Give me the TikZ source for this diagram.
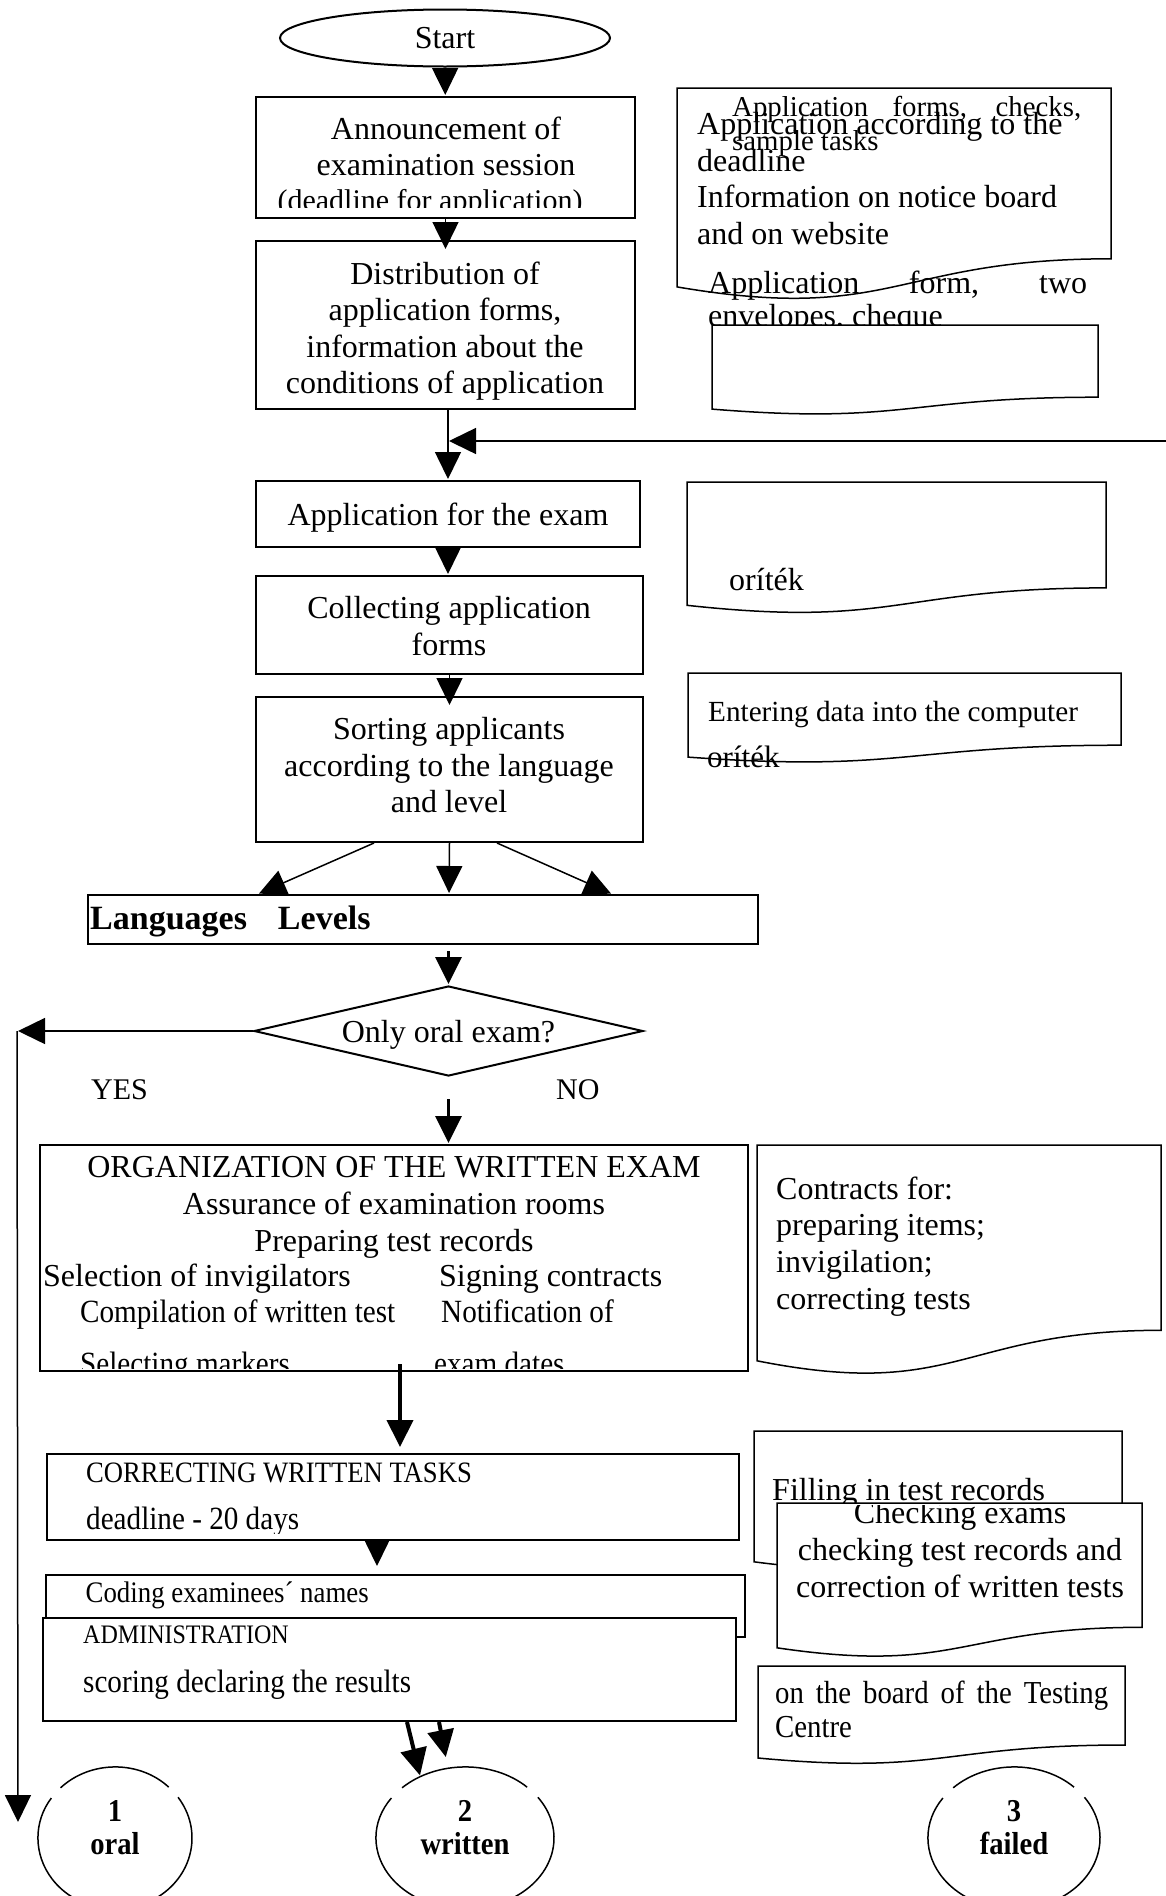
\documentclass[tikz,border=0pt]{standalone}
\usepackage{fontspec}
\setmainfont{Liberation Serif}
\newfontfamily\condfont[FakeStretch=0.9]{Liberation Serif}
\usetikzlibrary{arrows.meta,positioning,shapes.geometric}

\begin{document}
\begin{tikzpicture}[x=1pt,y=-1pt,>={Triangle[width=26pt,length=27pt]},shorten >=1pt,
    box/.style={draw,line width=2pt,fill=white,inner sep=0pt},
    doc/.style={draw,line width=1.5pt,fill=white},
    txt/.style={inner sep=0pt,yshift=-5pt,font=\fontsize{32}{36.5}\selectfont,execute at begin node=\strut},
    plain/.style={inner sep=0pt,anchor=base west,font=\fontsize{#1}{#1}\selectfont},
    cond/.style={inner sep=0pt,anchor=base west,font=\condfont\fontsize{#1}{#1}\selectfont},
    conn/.style={->,line width=1.5pt},
    heavy/.style={->,line width=4pt},
    ring/.style={ellipse,inner sep=0pt,minimum height=142pt},
    ringtxt/.style={txt,anchor=north,align=center,font=\condfont\bfseries\fontsize{31.8}{33}\selectfont}]

\useasboundingbox (0,0) rectangle (1166,1896);
\clip (0,0) rectangle (1166,1896);

% main column
\node[ellipse,draw,line width=2pt,minimum width=330pt,minimum height=57pt,inner sep=0pt,
      font=\fontsize{32}{36.5}\selectfont] (start) at (445,38) {Start};
\node[box,minimum width=379pt,minimum height=121pt] (ann) at (445.5,157.5) {};
\node[txt,anchor=north,align=center] (annt) at (446,111.5) {Announcement of\\examination session};
\begin{scope}
  \clip (256,97) rectangle (636,207);
  \node[txt,anchor=north,yshift=5pt,font=\fontsize{30}{36.5}\selectfont] (anndl) at (430,184.5) {(deadline for application)};
\end{scope}
\node[box,minimum width=379pt,minimum height=168pt] (dist) at (445.5,325) {};
\node[txt,anchor=north,align=center] (distt) at (445,256.5)
  {Distribution of\\application forms,\\information about the\\conditions of application};
\node[box,minimum width=384pt,minimum height=66pt,text depth=0pt,font=\fontsize{32}{36.5}\selectfont] (app) at (448,514) {Application for the exam};
\node[box,minimum width=387pt,minimum height=98pt] (coll) at (449.5,625) {};
\node[txt,anchor=north,align=center] (collt) at (449,591.5) {Collecting application\\forms};
\node[box,minimum width=387pt,minimum height=145pt] (sort) at (449.5,769.5) {};
\node[txt,anchor=north,align=center] (sortt) at (449,712.5) {Sorting applicants\\according to the language\\and level};
\node[box,minimum width=670pt,minimum height=49pt] (langs) at (423,919.5) {};
\node[inner sep=0pt,anchor=base west,font=\bfseries\fontsize{34}{39}\selectfont] (langst) at (90,929) {Languages\hspace{31pt}Levels};
\node[diamond,draw,line width=2pt,aspect=4.3,minimum width=389pt,minimum height=90pt,inner sep=0pt,
      text depth=0pt,font=\fontsize{32}{36.5}\selectfont] (dec) at (448.5,1031) {Only oral exam?};
\node[plain=30] (yes) at (91,1099) {YES};
\node[plain=30] (no) at (556,1099) {NO};

% written exam
\node[box,minimum width=708pt,minimum height=226pt] (org) at (394,1258) {};
\node[txt,anchor=north,align=center,font=\fontsize{32}{37}\selectfont] (orgt) at (394,1151)
  {ORGANIZATION OF THE WRITTEN EXAM\\Assurance of examination rooms\\Preparing test records};
\node[plain=32] (invig) at (43,1286) {Selection of invigilators};
\node[plain=32] (sign) at (439,1286) {Signing contracts};
\node[cond=32.4] (comp) at (80,1322) {Compilation of written test};
\node[cond=32.4] (notif) at (441,1322) {Notification of};
\begin{scope}
  \clip (40,1140) rectangle (748,1368);
  \node[cond=32.4] (mark) at (80,1374) {Selecting markers};
  \node[cond=32.4] (dates) at (434,1374) {exam dates};
\end{scope}
\node[box,minimum width=692pt,minimum height=86pt] (corr) at (393,1497) {};
\node[cond=29.6] (corrt) at (86,1482) {CORRECTING WRITTEN TASKS};
\begin{scope}
  \clip (40,1450) rectangle (745,1533);
  \node[cond=32.4] (dl) at (86,1529) {deadline - 20 days};
\end{scope}
\node[box,minimum width=699pt,minimum height=62pt] (cod) at (395.5,1606) {};
\node[cond=29.8] (codt) at (85.5,1602) {Coding examinees´ names};
\node[box,minimum width=693pt,minimum height=103pt] (adm) at (389.5,1669.5) {};
\node[cond=26.7] (admt) at (83,1643) {ADMINISTRATION};
\node[cond=32.4] (score) at (83,1692) {scoring declaring the results};

% documents on the right
\draw[doc] (677,88) -- (1111,88) -- (1111,258.8) .. controls (894,258.8) and (894,323.9) .. (677,286.9) -- cycle;
\node[txt,anchor=north west,yshift=4pt,align=justify,text width=349pt,font=\fontsize{28.8}{34}\selectfont] (forms) at (732,91.2)
  {Application forms, checks,\linebreak sample tasks};
\node[txt,anchor=north west,align=left] (accord) at (697,107.5)
  {Application according to the\\deadline\\Information on notice board\\and on website};
\node[txt,anchor=north west,yshift=2pt,align=justify,text width=379pt,font=\fontsize{32}{33}\selectfont] (formtwo) at (708,266.9)
  {Application form, two\linebreak envelopes, cheque};
\draw[doc] (712,325) -- (1098,325) -- (1098,397.2) .. controls (905,397.2) and (905,424.7) .. (712,409.1) -- cycle;
\draw[doc] (687,482) -- (1106,482) -- (1106,587.9) .. controls (896.5,587.9) and (896.5,628.2) .. (687,605.3) -- cycle;
\node[plain=32] (orit1) at (729,590) {oríték};
\draw[doc] (688,673) -- (1121,673) -- (1121,745.2) .. controls (904.5,745.2) and (904.5,772.7) .. (688,757.1) -- cycle;
\node[plain=29.2] (enter) at (708,721) {Entering data into the computer};
\node[plain=31] (orit2) at (707,767) {oríték};
\draw[doc] (757,1145) -- (1161,1145) -- (1161,1330.3) .. controls (959,1330.3) and (959,1400.8) .. (757,1360.8) -- cycle;
\node[txt,anchor=north west,align=left,font=\fontsize{32}{36.7}\selectfont] (contr) at (776,1171.3)
  {Contracts for:\\preparing items;\\invigilation;\\correcting tests};
\draw[doc] (754,1431) -- (1122,1431) -- (1122,1543.3) .. controls (938,1543.3) and (938,1586) .. (754,1561.8) -- cycle;
\node[plain=32] (filling) at (772,1500) {Filling in test records};
\draw[doc] (777,1503) -- (1142,1503) -- (1142,1627.3) .. controls (959.5,1627.3) and (959.5,1674.7) .. (777,1647.8) -- cycle;
\begin{scope}
  \clip (770,1505) rectangle (1150,1700);
  \node[txt,anchor=north,align=center,font=\fontsize{32}{37}\selectfont] (check) at (960,1496.1)
    {Checking exams\\checking test records and\\correction of written tests};
\end{scope}
\draw[doc] (758,1666) -- (1125,1666) -- (1125,1745) .. controls (941.5,1745) and (941.5,1775.1) .. (758,1758) -- cycle;
\node[txt,anchor=north west,align=justify,text width=333pt,font=\condfont\fontsize{32}{34}\selectfont] (board) at (775,1674.2)
  {on the board of the Testing\linebreak Centre};

% results
\node[ring,minimum width=154pt] (c1) at (115,1838) {};
\node[ring,minimum width=178pt] (c2) at (465,1838) {};
\node[ring,minimum width=172pt] (c3) at (1014,1838) {};
\foreach \c/\rx in {c1/77,c2/89,c3/86} {
  \draw[line width=1.5pt] (\c.center) ++(135:\rx pt and 71pt) arc[start angle=135,end angle=45,x radius=\rx pt,y radius=71pt];
  \draw[line width=1.5pt] (\c.center) ++(35:\rx pt and 71pt) arc[start angle=35,end angle=-215,x radius=\rx pt,y radius=71pt];
}
\node[ringtxt] (c1t) at (115,1795) {1\\oral};
\node[ringtxt] (c2t) at (465,1795) {2\\written};
\node[ringtxt] (c3t) at (1014,1795) {3\\failed};

% connectors
\coordinate (fb) at (1166,441);
\coordinate (yesc) at (17,1031);
\coordinate (yese) at (18,1823);
\coordinate (w2tip) at (446,1758);
\draw[conn] (start) -- (ann);
\draw[conn,shorten >=-9pt] (ann) -- (dist);
\draw[conn] (dist.south -| app.north) -- (app.north);
\draw[conn] (fb) -- (fb -| app.north);
\draw[conn] (app.south) -- (app.south |- coll.north);
\draw[conn,shorten >=-9pt] (coll.south) -- (coll.south |- sort.north);
\draw[conn] ([xshift=-75.5pt]sort.south) -- ([xshift=-165pt]langs.north);
\draw[conn] (sort.south) -- ([xshift=26pt]langs.north);
\draw[conn] ([xshift=47.5pt]sort.south) -- ([xshift=189pt]langs.north);
\draw[conn,line width=3pt,shorten <=6pt] (dec.north |- langs.south) -- (dec.north);
\draw[conn] (dec.west) -- (yesc);
\draw[conn] (yesc) -- (yese);
\draw[conn,line width=3pt] ([yshift=-22pt]dec.south) -- (org.north -| dec.south);
\draw[heavy,shorten >=6pt] ([xshift=6pt,yshift=8pt]org.south) -- ([xshift=7pt]corr.north);
\draw[conn,shorten >=8pt] ([xshift=-16pt]corr.south) -- ([xshift=-18.5pt]cod.north);
\draw[heavy] ([xshift=17.5pt]adm.south) -- (c2.126);
\draw[heavy] ([xshift=49.5pt]adm.south) -- (w2tip);
\end{tikzpicture}
\end{document}
